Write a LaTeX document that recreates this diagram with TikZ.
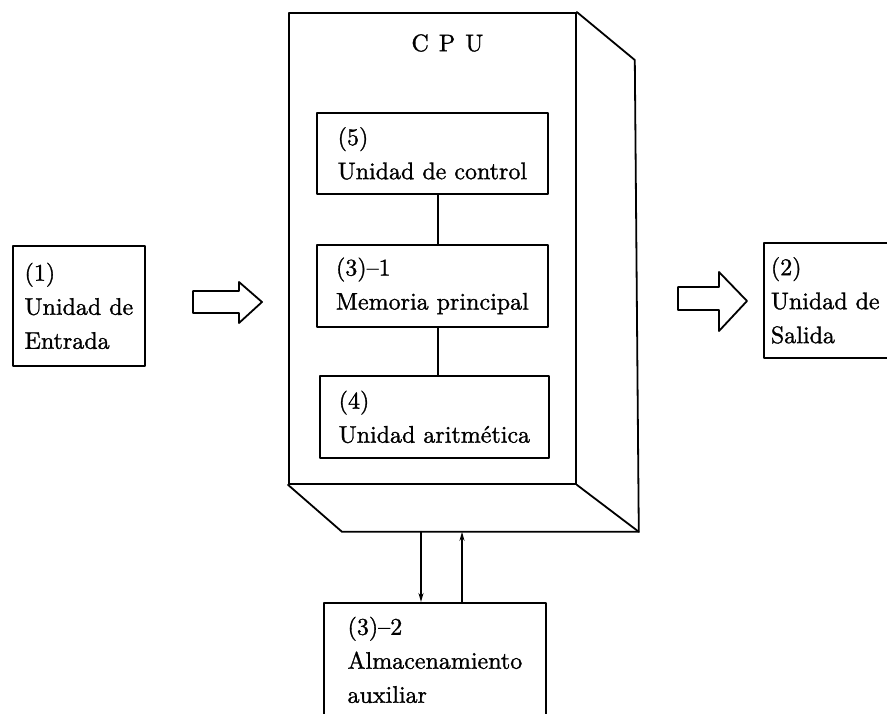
\documentclass[tikz,border=0pt]{standalone}
\usepackage{fontspec}
\setmainfont{lmroman10-regular.otf}[FakeBold=1.2]
\usetikzlibrary{calc,arrows.meta}
\begin{document}
\begin{tikzpicture}[x=1pt,y=-1pt,
  ln/.style={line width=1.8pt, line join=round, line cap=round},
  box/.style={ln, draw, rectangle, anchor=north west, inner sep=0pt, align=left,
    font=\fontsize{24}{34}\selectfont},
  lbl/.style={font=\fontsize{24}{34}\selectfont, inner sep=0pt},
  link/.style={ln, -{Stealth[length=9pt,width=5pt]}},
  bigarrow/.style={ln, draw}]
\useasboundingbox (0,0) rectangle (887,713);
\clip (0,0) rectangle (887,713);

% CPU cabinet: front face plus the right and bottom faces
\node[ln, draw, rectangle, anchor=north west, inner sep=0pt,
      minimum width=287, minimum height=471] (cpu) at (288,12) {};
\node[lbl] (cpulbl) at ($(cpu.north)+(15,31)$) {C\hspace{0.42em}P\hspace{0.42em}U};
\coordinate (backtop) at ($(cpu.north east)+(58,48)$);
\coordinate (backbot) at ($(cpu.south east)+(62,47)$);
\coordinate (basel) at ($(cpu.south west)+(54,47)$);
\draw[ln] (cpu.north east) -- (backtop) -- (backbot) -- (basel) -- (cpu.south west);
\draw[ln] (cpu.south east) -- (backbot);

% Units inside the CPU
\node[box, minimum width=231, minimum height=81] (ctrl) at (316,112)
  {(5)\\Unidad de control};
\node[box, minimum width=231, minimum height=82] (mem) at (316,244)
  {(3)--1\\Memoria principal};
\node[box, minimum width=229, minimum height=82] (alu) at (319,375)
  {(4)\\Unidad aritmética};
\draw[ln] ($(ctrl.south)+(5.5,0)$) coordinate (c1) -- (c1 |- mem.north);
\draw[ln] ($(mem.south)+(5.5,0)$) coordinate (c2) -- (c2 |- alu.north);

% Input and output units
\node[box, minimum width=132, minimum height=120] (in) at (12,245)
  {(1)\\Unidad de\\Entrada};
\node[box, text width=130, inner xsep=7pt, minimum height=115] (out) at (763,242)
  {(2)\\Unidad de\\Salida};

% Block arrows
\draw[bigarrow] (193,291) -- (239,291) -- (239,282) -- (262,302)
  -- (239,323) -- (239,313) -- (193,313) -- cycle;
\draw[bigarrow] (678,287) -- (719,287) -- (719,272) -- (747,301)
  -- (719,331) -- (719,310) -- (678,310) -- cycle;

% Auxiliary storage and its links to the CPU
\node[box, minimum width=222, minimum height=114] (store) at (323,602)
  {(3)--2\\Almacenamiento\\auxiliar};
\coordinate (dn) at ($(store.north west)+(98,0)$);
\coordinate (up) at ($(store.north west)+(139,0)$);
\draw[link] (dn |- basel) -- (dn);
\draw[link] (up) -- (up |- basel);
\end{tikzpicture}
\end{document}
